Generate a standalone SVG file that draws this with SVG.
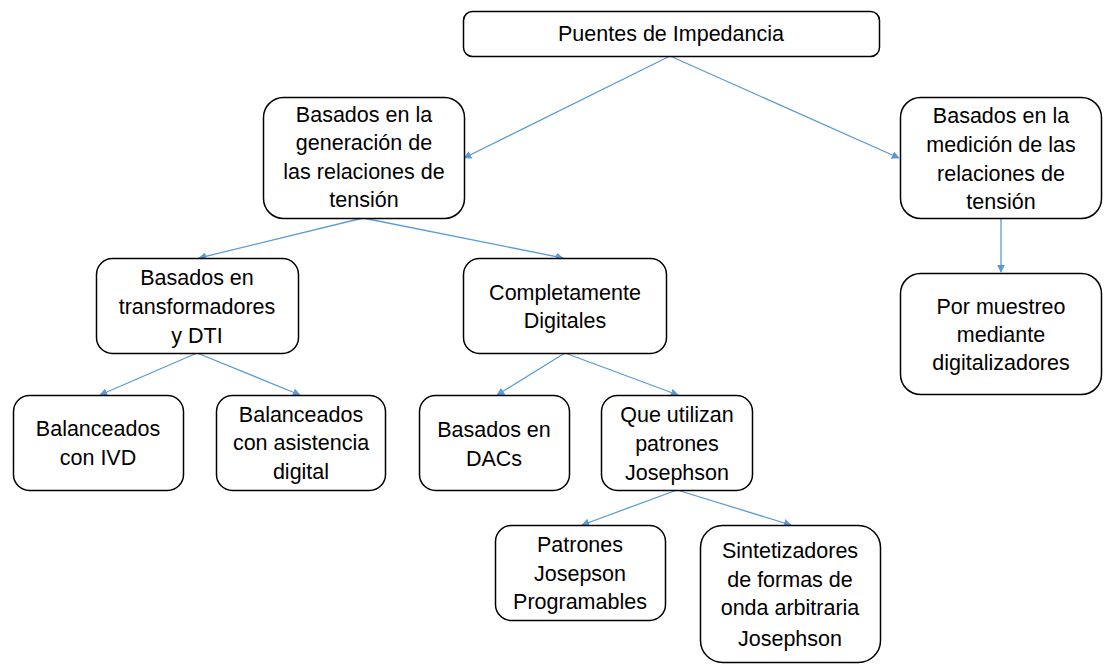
<svg xmlns="http://www.w3.org/2000/svg" width="1105" height="664" viewBox="0 0 1105 664">
<style>
.box{fill:#fff;stroke:#000;stroke-width:1.5}
.t{font-family:"Liberation Sans",Arial,sans-serif;font-size:21.5px;fill:#000;text-anchor:middle}
.c{stroke:#5B9BD5;stroke-width:1.3;fill:none;marker-end:url(#a)}
</style>
<defs>
<marker id="a" viewBox="0 0 10 10" refX="9" refY="5" markerWidth="8" markerHeight="8" markerUnits="userSpaceOnUse" orient="auto">
<path d="M0,0 L10,5 L0,10 z" fill="#5B9BD5"/>
</marker>
</defs>
<rect width="1105" height="664" fill="#fff"/>
<g id="connectors">
<line class="c" x1="670" y1="56" x2="464" y2="158"/>
<line class="c" x1="670" y1="56" x2="899" y2="158"/>
<line class="c" x1="363" y1="218" x2="199" y2="258"/>
<line class="c" x1="363" y1="218" x2="563" y2="258"/>
<line class="c" x1="1001" y1="218" x2="1001" y2="272"/>
<line class="c" x1="197" y1="353" x2="100" y2="395"/>
<line class="c" x1="197" y1="353" x2="300" y2="395"/>
<line class="c" x1="565" y1="353" x2="497" y2="395"/>
<line class="c" x1="565" y1="353" x2="678" y2="395"/>
<line class="c" x1="677" y1="490" x2="582" y2="525"/>
<line class="c" x1="677" y1="490" x2="791" y2="525"/>
</g>
<g id="n1"><rect class="box" x="463.5" y="11.5" width="416" height="45" rx="9"/>
<text class="t" x="671" y="41">Puentes de Impedancia</text></g>
<g id="n2"><rect class="box" x="263.5" y="97.5" width="201" height="121" rx="20"/>
<text class="t"><tspan x="364" y="122">Basados en la</tspan><tspan x="364" y="150">generación de</tspan><tspan x="364" y="179">las relaciones de</tspan><tspan x="364" y="207">tensión</tspan></text></g>
<g id="n3"><rect class="box" x="900.5" y="97.5" width="201" height="121" rx="20"/>
<text class="t"><tspan x="1001" y="123">Basados en la</tspan><tspan x="1001" y="152">medición de las</tspan><tspan x="1001" y="181">relaciones de</tspan><tspan x="1001" y="209">tensión</tspan></text></g>
<g id="n4"><rect class="box" x="96.5" y="258.5" width="202" height="95" rx="16"/>
<text class="t"><tspan x="197" y="285">Basados en</tspan><tspan x="197" y="314">transformadores</tspan><tspan x="197" y="343">y DTI</tspan></text></g>
<g id="n5"><rect class="box" x="463.5" y="258.5" width="203" height="95" rx="16"/>
<text class="t"><tspan x="565" y="300">Completamente</tspan><tspan x="565" y="328">Digitales</tspan></text></g>
<g id="n6"><rect class="box" x="900.5" y="273.5" width="201" height="121" rx="20"/>
<text class="t"><tspan x="1001" y="314">Por muestreo</tspan><tspan x="1001" y="342">mediante</tspan><tspan x="1001" y="370">digitalizadores</tspan></text></g>
<g id="n7"><rect class="box" x="13.5" y="395.5" width="170" height="95" rx="16"/>
<text class="t"><tspan x="98" y="436">Balanceados</tspan><tspan x="98" y="465">con IVD</tspan></text></g>
<g id="n8"><rect class="box" x="216.5" y="395.5" width="169" height="95" rx="16"/>
<text class="t"><tspan x="301" y="422">Balanceados</tspan><tspan x="301" y="450">con asistencia</tspan><tspan x="301" y="479">digital</tspan></text></g>
<g id="n9"><rect class="box" x="419.5" y="395.5" width="150" height="95" rx="16"/>
<text class="t"><tspan x="494" y="437">Basados en</tspan><tspan x="494" y="466">DACs</tspan></text></g>
<g id="n10"><rect class="box" x="601.5" y="395.5" width="151" height="95" rx="16"/>
<text class="t"><tspan x="677" y="422">Que utilizan</tspan><tspan x="677" y="451">patrones</tspan><tspan x="677" y="480">Josephson</tspan></text></g>
<g id="n11"><rect class="box" x="495.5" y="525.5" width="170" height="95" rx="16"/>
<text class="t"><tspan x="580" y="552">Patrones</tspan><tspan x="580" y="581">Josepson</tspan><tspan x="580" y="609">Programables</tspan></text></g>
<g id="n12"><rect class="box" x="700.5" y="525.5" width="180" height="137" rx="22"/>
<text class="t"><tspan x="790" y="558">Sintetizadores</tspan><tspan x="790" y="587">de formas de</tspan><tspan x="790" y="615">onda arbitraria</tspan><tspan x="790" y="646">Josephson</tspan></text></g>
</svg>
